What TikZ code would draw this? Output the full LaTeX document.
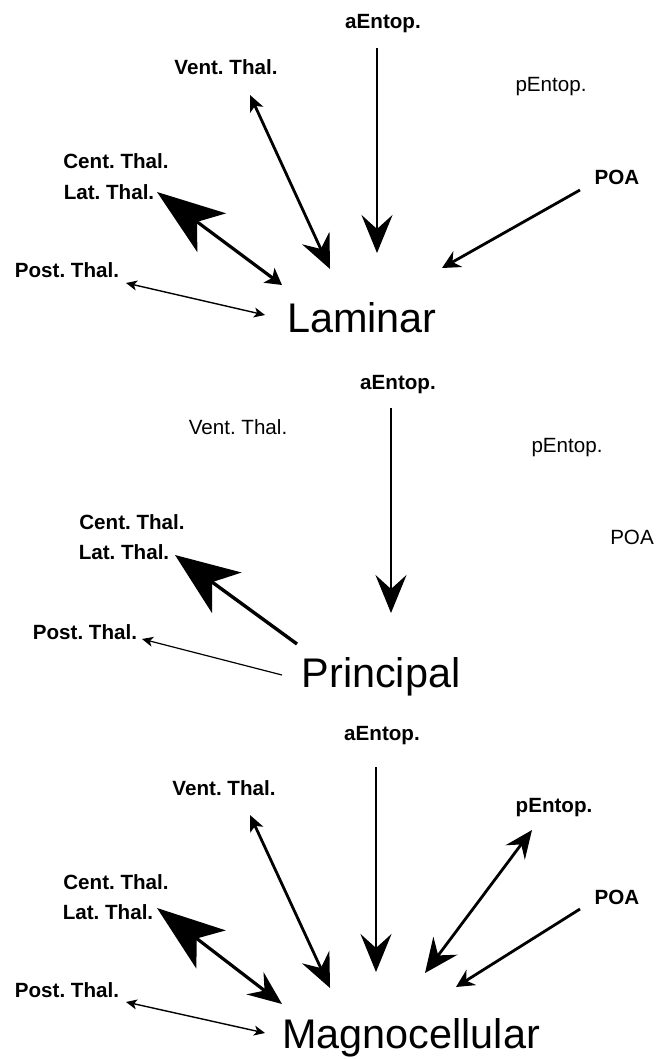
\documentclass[tikz,border=0pt]{standalone}
\usepackage{fontspec}
\setmainfont{Liberation Sans}
\usetikzlibrary{arrows.meta}
\frenchspacing

\begin{document}
\begin{tikzpicture}[x=0.5pt, y=-0.5pt,
    lab/.style={font=\bfseries\fontsize{10.3}{12}\selectfont, inner sep=0pt, anchor=base},
    labr/.style={font=\fontsize{10.3}{12}\selectfont, inner sep=0pt, anchor=base},
    region/.style={font=\fontsize{20.7}{24}\selectfont, inner sep=0pt, anchor=base},
    aent/.style={line width=1.3pt, -{Stealth[length=19pt,width=15.5pt,inset=7pt]}},
    vent/.style={line width=1.4pt, {Stealth[length=8pt,width=7pt,inset=2pt]}-{Stealth[length=17pt,width=15pt,inset=6pt]}},
    lat/.style={line width=1.6pt, {Stealth[length=34pt,width=24pt,inset=9pt]}-{Stealth[length=8pt,width=9pt,inset=2pt]}},
    post/.style={line width=0.7pt, {Stealth[length=5.5pt,width=5pt,inset=1.5pt]}-{Stealth[length=5.5pt,width=5pt,inset=1.5pt]}},
    poa/.style={line width=1.4pt, -{Stealth[length=9pt,width=9pt,inset=3pt]}}]
    \useasboundingbox (0,0) rectangle (670,1059);

    % Laminar
    \node [lab] (aE1) at (383, 29) {aEntop.};
    \node [lab] (vT1) at (226, 75) {Vent. Thal.};
    \node [labr] (pE1) at (551, 92) {pEntop.};
    \node [lab] (cT1) at (116, 169) {Cent. Thal.};
    \node [lab] (lT1) at (109, 199) {Lat. Thal.};
    \node [lab] (pT1) at (67, 278) {Post. Thal.};
    \node [lab] (poa1) at (617, 185) {POA};
    \node [region] (lam) at (362, 332) {Laminar};
    \coordinate (a1s) at (377, 48);  \coordinate (a1e) at (377, 253);
    \coordinate (v1s) at (250, 95);  \coordinate (v1e) at (330, 269);
    \coordinate (l1s) at (157, 192); \coordinate (l1e) at (282, 285);
    \coordinate (p1s) at (126, 283); \coordinate (p1e) at (265, 315);
    \coordinate (o1s) at (580, 190); \coordinate (o1e) at (442, 268);
    \draw [aent] (a1s) -- (a1e);
    \draw [vent] (v1s) -- (v1e);
    \draw [lat] (l1s) -- (l1e);
    \draw [post] (p1s) -- (p1e);
    \draw [poa] (o1s) -- (o1e);

    % Principal
    \node [lab] (aE2) at (398, 389) {aEntop.};
    \node [labr] (vT2) at (238, 434) {Vent. Thal.};
    \node [labr] (pE2) at (567, 452) {pEntop.};
    \node [lab] (cT2) at (132, 529) {Cent. Thal.};
    \node [lab] (lT2) at (124, 559) {Lat. Thal.};
    \node [lab] (pT2) at (85, 639) {Post. Thal.};
    \node [labr] (poa2) at (632, 544) {POA};
    \node [region] (pri) at (381, 687) {Principal};
    \coordinate (a2s) at (391, 408); \coordinate (a2e) at (391, 613);
    \coordinate (l2s) at (297, 644); \coordinate (l2e) at (175, 555);
    \coordinate (p2s) at (282, 675); \coordinate (p2e) at (142, 639);
    \draw [aent] (a2s) -- (a2e);
    \draw [line width=1.7pt, -{Stealth[length=32pt,width=25pt,inset=9pt]}] (l2s) -- (l2e);
    \draw [line width=0.6pt, -{Stealth[length=5.5pt,width=5pt,inset=1.5pt]}] (p2s) -- (p2e);

    % Magnocellular
    \node [lab] (aE3) at (382, 740) {aEntop.};
    \node [lab] (vT3) at (224, 795) {Vent. Thal.};
    \node [lab] (pE3) at (554, 812) {pEntop.};
    \node [lab] (cT3) at (116, 889) {Cent. Thal.};
    \node [lab] (lT3) at (108, 919) {Lat. Thal.};
    \node [lab] (pT3) at (67, 997) {Post. Thal.};
    \node [lab] (poa3) at (617, 904) {POA};
    \node [region] (mag) at (411, 1048) {Magnocellular};
    \coordinate (a3s) at (376, 767); \coordinate (a3e) at (376, 972);
    \coordinate (v3s) at (250, 815); \coordinate (v3e) at (330, 988);
    \coordinate (e3s) at (532, 830); \coordinate (e3e) at (425, 973);
    \coordinate (l3s) at (157, 908); \coordinate (l3e) at (282, 1004);
    \coordinate (p3s) at (126, 1002); \coordinate (p3e) at (265, 1033);
    \coordinate (o3s) at (580, 909); \coordinate (o3e) at (456, 987);
    \draw [aent] (a3s) -- (a3e);
    \draw [vent] (v3s) -- (v3e);
    \draw [line width=1.4pt, {Stealth[length=14pt,width=12pt,inset=5pt]}-{Stealth[length=17pt,width=15pt,inset=6pt]}] (e3s) -- (e3e);
    \draw [line width=1.6pt, {Stealth[length=34pt,width=24pt,inset=9pt]}-{Stealth[length=17pt,width=14pt,inset=6pt]}] (l3s) -- (l3e);
    \draw [post] (p3s) -- (p3e);
    \draw [poa] (o3s) -- (o3e);
\end{tikzpicture}
\end{document}
